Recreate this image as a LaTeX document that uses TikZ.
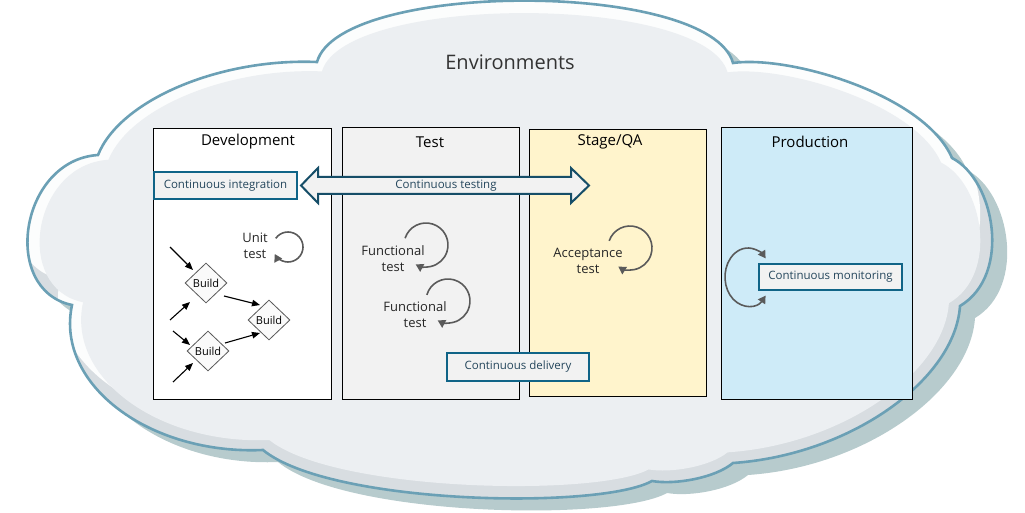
\documentclass[tikz,border=0pt]{standalone}
\usepackage{fontspec}
\setmainfont{Open Sans}
\usetikzlibrary{arrows.meta,shapes.geometric}
\definecolor{cloudline}{RGB}{107,160,181}
\definecolor{cloudfill}{RGB}{236,239,242}
\definecolor{cloudwhite}{RGB}{252,253,253}
\definecolor{clouddark}{RGB}{216,221,225}
\definecolor{cloudshadow}{RGB}{183,203,205}
\definecolor{tealline}{RGB}{16,100,135}
\definecolor{dblline}{RGB}{22,78,104}
\definecolor{textblue}{RGB}{36,70,92}
\definecolor{loopgrey}{RGB}{90,90,90}
\definecolor{testfill}{RGB}{242,242,242}
\definecolor{stagefill}{RGB}{255,244,204}
\definecolor{prodfill}{RGB}{206,235,248}
\definecolor{envtext}{RGB}{51,51,51}
\begin{document}
\begin{tikzpicture}[x=1pt,y=-1pt,
  envbox/.style={draw=black,line width=1.1pt,anchor=north west,inner sep=0pt},
  envtitle/.style={font=\fontsize{15}{18}\selectfont,text=black,inner sep=0pt},
  cbox/.style={draw=tealline,line width=2pt,fill=testfill,text=textblue,
    font=\fontsize{11.5}{14}\selectfont,inner sep=0pt},
  lbl/.style={font=\fontsize{13}{16}\selectfont,text=black!85,align=center,inner sep=0pt},
  buildnode/.style={diamond,draw=black!65,line width=0.8pt,fill=white!98!black,
    minimum width=42pt,minimum height=40pt,inner sep=0pt,
    font=\fontsize{11}{13}\selectfont},
  blk/.style={draw=black,line width=1.1pt,-{Triangle[length=8pt,width=6.5pt]}},
  looparrow/.style={draw=loopgrey,line width=1.6pt,-{Triangle[length=7.5pt,width=8.5pt]}},
  dblarrow/.style={draw=dblline,line width=2pt,fill=testfill,line join=miter}
]
\useasboundingbox (0,0) rectangle (1025,513);
\def\cloudpath{(98,155) .. controls (120,100) and (220,58) .. (317,62)
  .. controls (340,-20) and (710,-20) .. (733,63)
  .. controls (790,55) and (925,95) .. (952,158)
  .. controls (995,180) and (1012,275) .. (960,306)
  .. controls (955,380) and (850,455) .. (733,463)
  .. controls (715,478) and (675,485) .. (652,481)
  .. controls (600,510) and (330,505) .. (263,450)
  .. controls (150,455) and (55,385) .. (72,305)
  .. controls (0,290) and (20,160) .. (98,155) -- cycle}
% shadow
\begin{scope}[shift={(15,12)}]
  \fill[cloudshadow] \cloudpath;
\end{scope}
% cloud body
\fill[clouddark] \cloudpath;
\begin{scope}
  \clip \cloudpath;
  \begin{scope}[shift={(-12,-26)}]
    \fill[cloudwhite] \cloudpath;
  \end{scope}
  \begin{scope}[shift={(515,250)},xscale=0.975,yscale=0.95,shift={(-515,-250)}]
    \fill[cloudfill] \cloudpath;
  \end{scope}
\end{scope}
\draw[cloudline,line width=2.6pt,line join=miter] \cloudpath;

\node[font=\fontsize{20}{24}\selectfont,text=envtext] (envt) at (510,62) {Environments};

% environment boxes
\node[envbox,fill=white,minimum width=178pt,minimum height=271pt] (dev) at (153,128) {};
\node[envbox,fill=testfill,minimum width=177pt,minimum height=272pt] (test) at (342,127) {};
\node[envbox,fill=stagefill,minimum width=177pt,minimum height=267pt] (stage) at (529,129) {};
\node[envbox,fill=prodfill,minimum width=191pt,minimum height=272pt] (prod) at (721,127) {};

\node[envtitle] (devt) at (248,142) {Development};
\node[envtitle] (testt) at (430,142) {Test};
\node[envtitle] (staget) at (610,142) {Stage/QA};
\node[envtitle] (prodt) at (810,142) {Production};

% continuous testing double arrow
\draw[dblarrow] (301,185.5) -- (318,168) -- (318,177) -- (571,177) -- (571,168)
  -- (589,185.5) -- (571,203) -- (571,194) -- (318,194) -- (318,203) -- cycle;
\node[text=textblue,font=\fontsize{11.5}{14}\selectfont,inner sep=0pt] (ctest) at (446,185.5) {Continuous testing};

\node[cbox,minimum width=143pt,minimum height=27pt] (ci) at (225.5,185.5) {Continuous integration};
\node[cbox,minimum width=142pt,minimum height=28pt] (cd) at (518,367) {Continuous delivery};
\node[cbox,minimum width=143pt,minimum height=26pt] (cm) at (830.5,277) {Continuous monitoring};

% builds
\node[buildnode] (b1) at (206,283) {Build};
\node[buildnode] (b2) at (269,320) {Build};
\node[buildnode] (b3) at (208,351) {Build};
\coordinate (a1) at (170,247);
\coordinate (a2) at (170,320);
\coordinate (a3) at (173,331);
\coordinate (a4) at (173,382);
\draw[blk] (a1) -- ([shift={(-13,-13)}]b1.center);
\draw[blk] (a2) -- ([shift={(-16,19)}]b1.center);
\draw[blk] ([shift={(18,13)}]b1.center) -- ([shift={(-9,-15)}]b2.center);
\draw[blk] (a3) -- ([shift={(-18,-6)}]b3.center);
\draw[blk] (a4) -- ([shift={(-15,12)}]b3.center);
\draw[blk] ([shift={(17,-8)}]b3.center) -- ([shift={(-9,13)}]b2.center);

% loops and labels
\node[lbl] (unit) at (255,246) {Unit\\test};
\draw[looparrow] (288,247) ++(-145:15) arc[start angle=-145,end angle=152,radius=15];

\node[lbl] (ft1) at (393,259) {Functional\\test};
\draw[looparrow] (426,245) ++(-162:22) arc[start angle=-162,end angle=118,radius=22];

\node[lbl] (ft2) at (415,315) {Functional\\test};
\draw[looparrow] (448,301) ++(-164:22) arc[start angle=-164,end angle=118,radius=22];

\node[lbl] (acc) at (588,261) {Acceptance\\test};
\draw[looparrow] (630,248) ++(-161:22) arc[start angle=-161,end angle=122,radius=22];

\draw[looparrow,{Triangle[length=7.5pt,width=8.5pt]}-{Triangle[length=7.5pt,width=8.5pt]}]
  (748,277) ++(40:23 and 29) arc[start angle=40,end angle=320,x radius=23,y radius=29];
\end{tikzpicture}
\end{document}
